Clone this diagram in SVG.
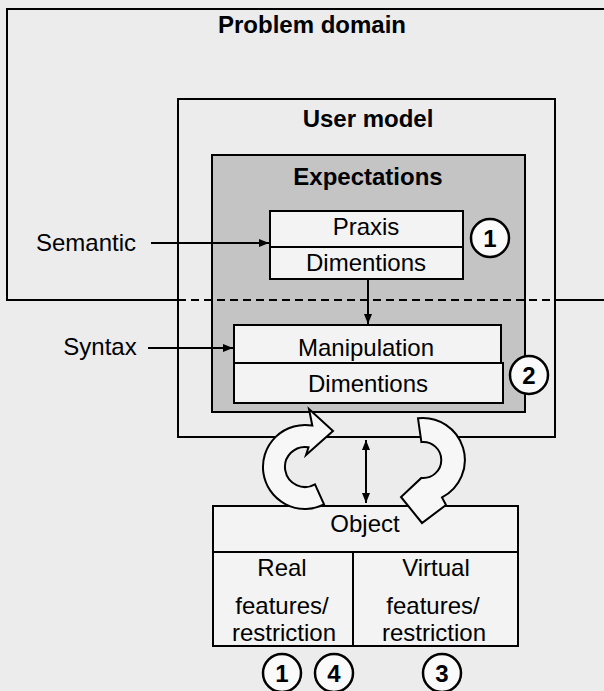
<svg xmlns="http://www.w3.org/2000/svg" width="604" height="691" viewBox="0 0 604 691">
<style>
.t{font-family:"Liberation Sans",Arial,sans-serif;font-size:24px;fill:#000;text-anchor:middle}
.b{font-weight:bold}
.box{fill:#f3f3f3;stroke:#000;stroke-width:2}
.ln{fill:none;stroke:#000;stroke-width:2}
.num{fill:#fafafa;stroke:#000;stroke-width:2.5}
.ca{fill:#f7f7f7;stroke:#000;stroke-width:2;stroke-linejoin:miter}
</style>
<defs>
<marker id="ah" viewBox="0 0 10 10" refX="10" refY="5" markerWidth="5" markerHeight="5" orient="auto-start-reverse" markerUnits="strokeWidth">
<path d="M0,1 L10,5 L0,9 Z" fill="#000"/>
</marker>
</defs>
<rect x="0" y="0" width="604" height="691" fill="#ececec"/>

<g id="problem-domain">
<path class="ln" d="M604,9 H7 V300 H178"/>
<path class="ln" d="M555,300 H604"/>
<text class="t b" x="312" y="33">Problem domain</text>
</g>

<g id="user-model">
<rect class="ln" x="178" y="99" width="377" height="338"/>
<text class="t b" x="368" y="127">User model</text>
</g>

<g id="expectations">
<rect x="212" y="155" width="313" height="257" fill="#c4c4c4" stroke="#000" stroke-width="2"/>
<text class="t b" x="368" y="185">Expectations</text>
</g>

<g id="praxis">
<rect class="box" x="270" y="211" width="193" height="36"/>
<text class="t" x="366" y="235">Praxis</text>
</g>
<g id="dimentions-1">
<rect class="box" x="270" y="247" width="193" height="32"/>
<text class="t" x="366" y="271">Dimentions</text>
</g>

<g id="manipulation">
<rect class="box" x="234" y="325" width="267" height="38"/>
<text class="t" x="366" y="356">Manipulation</text>
</g>
<g id="dimentions-2">
<rect class="box" x="234" y="363" width="269" height="40"/>
<text class="t" x="368" y="392">Dimentions</text>
</g>

<g id="semantic"><text class="t" x="86" y="251">Semantic</text></g>
<g id="syntax"><text class="t" x="100" y="355">Syntax</text></g>

<g id="object">
<rect class="box" x="213" y="506" width="305" height="46"/>
<text class="t" x="365" y="532">Object</text>
</g>
<g id="real">
<rect class="box" x="213" y="552" width="140" height="94"/>
<text class="t" x="282" y="576">Real</text>
<text class="t" x="282" y="614">features/</text>
<text class="t" x="284" y="641">restriction</text>
</g>
<g id="virtual">
<rect class="box" x="353" y="552" width="165" height="94"/>
<text class="t" x="436" y="576">Virtual</text>
<text class="t" x="433" y="614">features/</text>
<text class="t" x="434" y="641">restriction</text>
</g>

<g id="marker-1a"><circle class="num" cx="490" cy="238" r="19"/><text class="t b" x="490" y="247">1</text></g>
<g id="marker-2"><circle class="num" cx="529" cy="375" r="19"/><text class="t b" x="529" y="384">2</text></g>
<g id="marker-1b"><circle class="num" cx="282" cy="673" r="19"/><text class="t b" x="282" y="682">1</text></g>
<g id="marker-4"><circle class="num" cx="334" cy="673" r="19"/><text class="t b" x="334" y="682">4</text></g>
<g id="marker-3"><circle class="num" cx="442" cy="673" r="19"/><text class="t b" x="442" y="682">3</text></g>

<g id="connectors">
<path d="M178,300 H555" fill="none" stroke="#000" stroke-width="2" stroke-dasharray="8,5"/>
<line class="ln" x1="151" y1="243" x2="269" y2="243" marker-end="url(#ah)"/>
<line class="ln" x1="148" y1="348" x2="233" y2="348" marker-end="url(#ah)"/>
<line class="ln" x1="368" y1="279" x2="368" y2="324" marker-end="url(#ah)"/>
<line class="ln" x1="366" y1="440" x2="366" y2="503" marker-start="url(#ah)" marker-end="url(#ah)"/>
<path class="ca" d="M324,504.4 A42,42 0 1 1 312.3,425.6 L309,409 L333,431 L306,455 L308.5,447.3 A20,20 0 1 0 315,484.3 Z"/>
<path class="ca" d="M418,418.3 A42,42 0 0 1 442,497.4 L446,505 L422,523 L401,497 L421.4,477.9 A18,18 0 1 0 421.4,442.1 Z"/>
</g>
</svg>
